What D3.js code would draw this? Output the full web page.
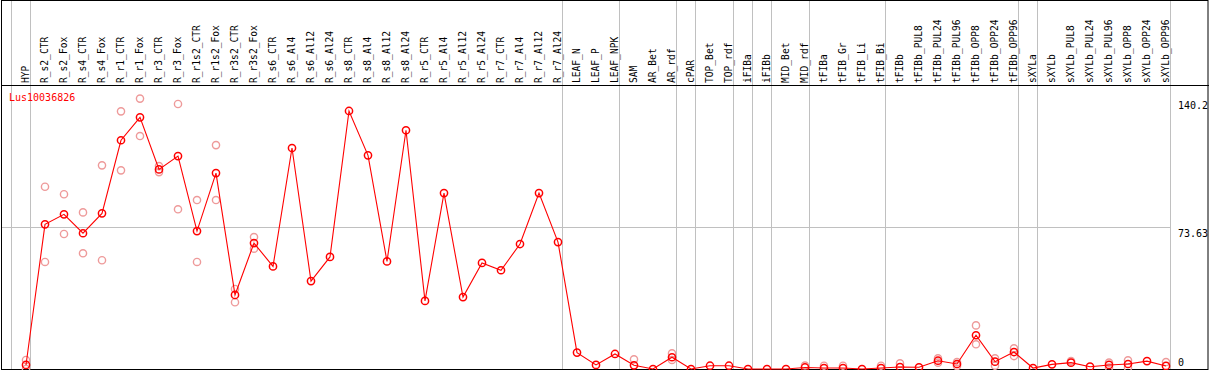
<!DOCTYPE html>
<meta charset="utf-8">
<style>
  body { margin: 0; background: #fff; }
  text { font-family: "DejaVu Sans Mono", monospace; }
</style>
<body>
<script src="https://d3js.org/d3.v7.min.js"></script>
<script>
  // samples (columns)
  var samples = ["HYP", "R_s2_CTR", "R_s2_Fox", "R_s4_CTR", "R_s4_Fox", "R_r1_CTR", "R_r1_Fox",
    "R_r3_CTR", "R_r3_Fox", "R_r1s2_CTR", "R_r1s2_Fox", "R_r3s2_CTR", "R_r3s2_Fox", "R_s6_CTR",
    "R_s6_Al4", "R_s6_Al12", "R_s6_Al24", "R_s8_CTR", "R_s8_Al4", "R_s8_Al12", "R_s8_Al24",
    "R_r5_CTR", "R_r5_Al4", "R_r5_Al12", "R_r5_Al24", "R_r7_CTR", "R_r7_Al4", "R_r7_Al12", "R_r7_Al24",
    "LEAF_N", "LEAF_P", "LEAF_NPK", "SAM", "AR_Bet", "AR_rdf", "cPAR", "TOP_Bet", "TOP_rdf",
    "iFIBa", "iFIBb", "MID_Bet", "MID_rdf", "tFIBa", "tFIB_Gr", "tFIB_Li", "tFIB_Bi", "tFIBb",
    "tFIBb_PUL8", "tFIBb_PUL24", "tFIBb_PUL96", "tFIBb_OPP8", "tFIBb_OPP24", "tFIBb_OPP96",
    "sXYLa", "sXYLb", "sXYLb_PUL8", "sXYLb_PUL24", "sXYLb_PUL96", "sXYLb_OPP8", "sXYLb_OPP24", "sXYLb_OPP96"];

  // mean expression
  var means = [2.1, 75.0, 80.2, 70.4, 80.7, 118.6, 130.5, 103.5, 110.4, 71.5, 101.6, 38.4, 65.3, 53.2,
    114.6, 45.6, 58.1, 133.8, 110.8, 55.8, 123.8, 35.3, 91.2, 37.3, 55.0, 51.2, 64.8, 91.2, 65.8,
    8.5, 2.1, 7.8, 1.9, 0, 6.1, 0, 1.7, 1.7, 0, 0, 0, 0.8, 0.5, 0.5, 0, 0.5, 1.0,
    0.9, 4.3, 2.6, 17.5, 3.8, 8.8, 0.5, 2.4, 3.3, 1.2, 2.1, 2.6, 4.1, 1.6];

  // replicates (null = hidden behind the mean)
  var rep1 = [4.7, 94.5, 90.6, 81.2, 105.6, 133.6, 140.2, 105.2, 137.4, 87.6, 116.1, 41.5, 68.4, null,
    null, null, null, null, null, null, null, null, null, null, null, null, null, null, null,
    null, null, null, 5.0, null, 8.1, null, null, null, null, null, null, 1.8, 1.7, 1.7, null, 1.7, 2.9,
    null, 5.5, 3.6, 22.6, 5.5, 10.7, null, null, 4.1, null, 3.3, 4.5, null, 3.6];
  var rep2 = [0, 55.5, 70.0, 60.0, 56.4, 103.0, 120.8, 102.1, 82.8, 55.5, 87.6, 34.6, 62.4, null,
    null, null, null, null, null, null, null, null, null, null, null, null, null, null, null,
    null, null, null, null, null, 4.7, null, null, null, null, null, null, null, null, null, null, null, null,
    null, 3.3, 1.6, 12.8, 1.7, 6.7, null, null, null, null, 0.7, 0.7, null, null];

  // columns after which a group separator is drawn
  var groupEnds = ["HYP", "R_r7_Al24", "LEAF_NPK", "AR_rdf", "cPAR", "TOP_rdf", "iFIBa", "iFIBb",
    "MID_rdf", "tFIB_Bi", "tFIBb_OPP96", "sXYLa", "sXYLb_OPP96"];

  var yTicks = [0, 73.63, 140.2];
  var yMax = 147.26;
  var geneName = "Lus10036826";

  var W = 1209, H = 370;
  var svg = d3.select("body").append("svg").attr("width", W).attr("height", H);

  var x = d3.scalePoint().domain(samples).range([26, 1166]);
  var y = d3.scaleLinear().domain([0, yMax]).range([369, 85]);

  // grid / separators
  var sepX = [x(samples[0]) - 15].concat(groupEnds.map(function(s) { return x(s) + 4.7; }));
  svg.selectAll(".sep").data(sepX).enter().append("line")
      .attr("x1", function(d) { return Math.floor(d) + 0.5; })
      .attr("x2", function(d) { return Math.floor(d) + 0.5; })
      .attr("y1", 0).attr("y2", 369)
      .style("stroke", "#c0c0c0");

  svg.append("line")
      .attr("x1", 1).attr("x2", Math.floor(x(samples[samples.length - 1]) + 4.7))
      .attr("y1", Math.round(y(73.63)) + 0.5).attr("y2", Math.round(y(73.63)) + 0.5)
      .style("stroke", "#c0c0c0");

  // frame
  svg.append("rect").attr("x", 1.5).attr("y", 0.5).attr("width", 1206.5).attr("height", 369)
      .style("fill", "none").style("stroke", "#000");
  svg.append("line").attr("x1", 1).attr("x2", W).attr("y1", 85.5).attr("y2", 85.5)
      .style("stroke", "#000");

  // column labels
  svg.selectAll(".lab").data(samples).enter().append("text")
      .attr("transform", function(d) { return "translate(" + (x(d) + 3) + ",83) rotate(-90)"; })
      .style("font-size", "9.6px")
      .style("fill", "#000")
      .text(function(d) { return d; });

  // y tick labels
  svg.selectAll(".tick").data(yTicks).enter().append("text")
      .attr("x", 1178)
      .attr("y", function(d) { return d === 0 ? 365.5 : y(d) + 10; })
      .style("font-size", "10px")
      .text(function(d) { return d; });

  svg.append("text").attr("x", 9).attr("y", 101)
      .style("font-size", "10px").style("fill", "red")
      .text(geneName);

  // replicates
  var reps = [];
  [rep1, rep2].forEach(function(r) {
    r.forEach(function(v, i) { if (v !== null) reps.push({s: samples[i], v: v}); });
  });
  svg.selectAll(".rep").data(reps).enter().append("circle")
      .attr("cx", function(d) { return x(d.s); })
      .attr("cy", function(d) { return y(d.v); })
      .attr("r", 3.6)
      .style("fill", "none")
      .style("stroke", "#ee9a9a")
      .style("stroke-width", 1.4);

  var pts = samples.map(function(s, i) { return {s: s, v: means[i]}; });

  svg.append("path").datum(pts)
      .attr("d", d3.line().x(function(d) { return x(d.s); }).y(function(d) { return y(d.v); }))
      .style("fill", "none").style("stroke", "red").style("stroke-width", 1.1);

  svg.selectAll(".pt").data(pts).enter().append("circle")
      .attr("cx", function(d) { return x(d.s); })
      .attr("cy", function(d) { return y(d.v); })
      .attr("r", 3.6)
      .style("fill", "none")
      .style("stroke", "red")
      .style("stroke-width", 1.5);
</script>
</body>
